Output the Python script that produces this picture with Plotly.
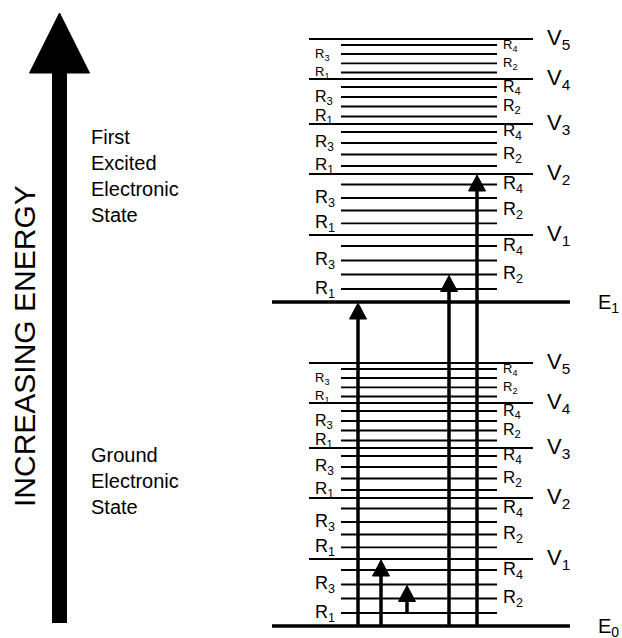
import plotly.graph_objects as go

# energies in drawing units, ground electronic level = 0
electronic_names = ["E<sub>0</sub>", "E<sub>1</sub>"]
electronic_energy = [0, 324]
state_names = ["Ground<br>Electronic<br>State", "First<br>Excited<br>Electronic<br>State"]

# vibrational levels above each electronic level (index 0 = the electronic level itself)
vib_names = ["", "V<sub>1</sub>", "V<sub>2</sub>", "V<sub>3</sub>", "V<sub>4</sub>", "V<sub>5</sub>"]
vib_energy = [0, 67, 128, 178, 223, 263]

# rotational levels above each vibrational level, one row per band
rot_names = ["R<sub>1</sub>", "R<sub>2</sub>", "R<sub>3</sub>", "R<sub>4</sub>"]
rot_energy = [
    [13, 27.5, 41.5, 56],
    [11.7, 24.5, 37, 50.5],
    [8, 19.5, 31, 42],
    [7.5, 17.5, 27, 37],
    [6.5, 15.7, 25, 34],
]
rot_font = [18, 18, 17, 16, 13]

# transitions (state, vib, rot) -> (state, vib, rot); rot None means the vibrational level
transitions = [
    ((0, 0, None), (1, 0, None)),
    ((0, 0, None), (1, 0, 1)),
    ((0, 0, None), (1, 2, None)),
    ((0, 0, None), (0, 1, None)),
    ((0, 0, 0), (0, 0, 2)),
]
arrow_x = [358, 449, 477, 381, 407]

FONT = "Liberation Sans, Arial, Helvetica, sans-serif"


def level(s, v, r=None):
    e = electronic_energy[s] + vib_energy[v]
    if r is not None:
        e += rot_energy[v][r]
    return e


fig = go.Figure()
ann = []

e_x, e_y, v_x, v_y, r_x, r_y = [], [], [], [], [], []
for s in range(len(electronic_energy)):
    e_x += [272, 570, None]
    e_y += [electronic_energy[s]] * 2 + [None]
    ann.append(dict(x=596, y=electronic_energy[s] - 1.5, text=electronic_names[s],
                    xanchor="left", yanchor="middle", font=dict(size=20)))
    for v in range(1, len(vib_energy)):
        y = level(s, v)
        v_x += [309, 533, None]
        v_y += [y, y, None]
        ann.append(dict(x=545, y=y + 0.5, text=vib_names[v], xanchor="left",
                        yanchor="middle", font=dict(size=22)))
    for v in range(len(rot_energy)):
        for r in range(len(rot_names)):
            y = level(s, v, r)
            r_x += [341, 497, None]
            r_y += [y, y, None]
            ann.append(dict(x=313 if r % 2 == 0 else 501, y=y, text=rot_names[r],
                            xanchor="left", yanchor="middle",
                            font=dict(size=rot_font[v])))

fig.add_trace(go.Scatter(x=r_x, y=r_y, mode="lines", line=dict(color="black", width=1.8)))
fig.add_trace(go.Scatter(x=v_x, y=v_y, mode="lines", line=dict(color="black", width=2)))
fig.add_trace(go.Scatter(x=e_x, y=e_y, mode="lines", line=dict(color="black", width=3.5)))

# transition arrows
head_h, head_w = 16, 8.5
for (a, b), x in zip(transitions, arrow_x):
    y0 = level(*a)
    tip = level(*b) - 1
    fig.add_trace(go.Scatter(x=[x, x], y=[y0, tip - head_h + 1], mode="lines",
                             line=dict(color="black", width=3.5)))
    fig.add_trace(go.Scatter(x=[x - head_w, x, x + head_w, x - head_w],
                             y=[tip - head_h, tip, tip - head_h, tip - head_h],
                             mode="lines", fill="toself", fillcolor="black",
                             line=dict(color="black", width=1)))

# big "increasing energy" arrow
fig.add_trace(go.Scatter(x=[59.5, 59.5], y=[3, 554], mode="lines",
                         line=dict(color="black", width=15)))
fig.add_trace(go.Scatter(x=[29.5, 59.5, 89.5, 29.5], y=[553, 613, 553, 553],
                         mode="lines", fill="toself", fillcolor="black",
                         line=dict(color="black", width=1)))

ann.append(dict(x=24, y=280, text="INCREASING ENERGY", textangle=-90,
                xanchor="center", yanchor="middle", font=dict(size=30)))
ann.append(dict(x=89, y=145, text=state_names[0], xanchor="left", yanchor="middle",
                align="left", font=dict(size=20)))
ann.append(dict(x=89, y=450.5, text=state_names[1], xanchor="left", yanchor="middle",
                align="left", font=dict(size=20)))

for a in ann:
    a.update(showarrow=False)
    a["font"].update(family=FONT, color="black")

fig.update_layout(
    width=622, height=638,
    margin=dict(l=0, r=0, t=0, b=0),
    plot_bgcolor="white", paper_bgcolor="white",
    showlegend=False,
    xaxis=dict(range=[0, 622], visible=False, fixedrange=True),
    yaxis=dict(range=[-12, 626], visible=False, fixedrange=True),
    annotations=ann,
)

fig.write_html("out.html", config={"displayModeBar": False},
               post_script="document.body.style.margin='0';")
